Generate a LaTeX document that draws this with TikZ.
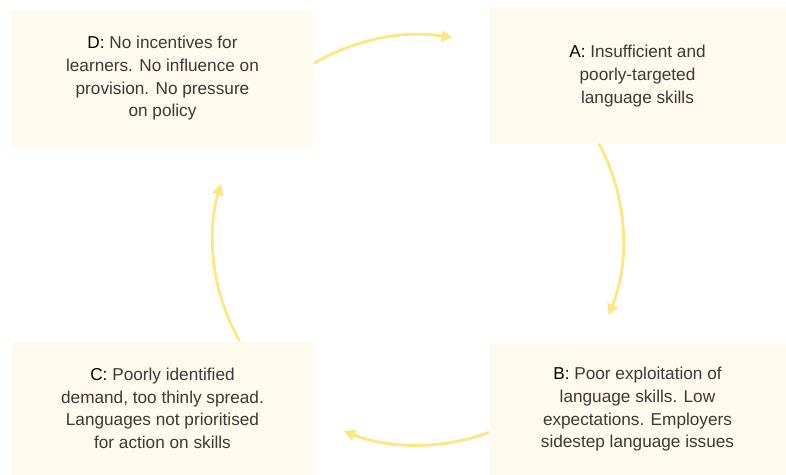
\documentclass[tikz,border=0pt]{standalone}
\usepackage{fontspec}
\setmainfont{Liberation Sans}
\usetikzlibrary{arrows.meta}
\definecolor{boxfill}{HTML}{FFFAEE}
\definecolor{cyccol}{HTML}{FFE67E}
\definecolor{txt}{HTML}{3A3A3A}
\tikzset{
  stagebox/.style={fill=boxfill, draw=none, inner sep=0pt, align=center,
    text=txt, font=\fontsize{12.9pt}{17pt}\selectfont},
  cyc/.style={draw=cyccol, line width=2.1pt,
    -{Triangle[length=8.5pt,width=8pt]}},
}
\newcommand{\stagelbl}[1]{\textcolor{black}{#1:}}
\begin{document}
\begin{tikzpicture}[x=0.75pt,y=0.75pt]
\useasboundingbox (0,0) rectangle (786,475);
% boxes (pixel coords, y up)
\node[stagebox, minimum width=301*0.75pt, minimum height=137*0.75pt] (D) at (162.5,396.5)
  {\stagelbl{D} No incentives for\\learners. No influence on\\provision. No pressure\\on policy};
\node[stagebox, minimum width=297*0.75pt, minimum height=137*0.75pt] (A) at (637.5,399)
  {\stagelbl{A} Insufficient and\\poorly-targeted\\language skills};
\node[stagebox, minimum width=297*0.75pt, minimum height=131*0.75pt] (B) at (637.5,65.5)
  {\stagelbl{B} Poor exploitation of\\language skills. Low\\expectations. Employers\\sidestep language issues};
\node[stagebox, minimum width=301*0.75pt, minimum height=133*0.75pt] (C) at (162.5,66.5)
  {\stagelbl{C} Poorly identified\\demand, too thinly spread.\\Languages not prioritised\\for action on skills};
% cycle arcs on a circle centred at (418,235), r = 205px
\coordinate (O) at (418,235);
\coordinate (sDA) at ([shift={(O)}]120.5:153.75pt);
\coordinate (sAB) at ([shift={(O)}]28:153.75pt);
\coordinate (sBC) at ([shift={(O)}]-69.8:153.75pt);
\coordinate (sCD) at ([shift={(O)}]209.5:153.75pt);
\draw[cyc] (sDA) arc[start angle=120.5, end angle=80.2, radius=153.75pt];
\draw[cyc] (sAB) arc[start angle=28, end angle=-21.6, radius=153.75pt];
\draw[cyc] (sBC) arc[start angle=-69.8, end angle=-111.3, radius=153.75pt];
\draw[cyc] (sCD) arc[start angle=209.5, end angle=164, radius=153.75pt];
\end{tikzpicture}
\end{document}
